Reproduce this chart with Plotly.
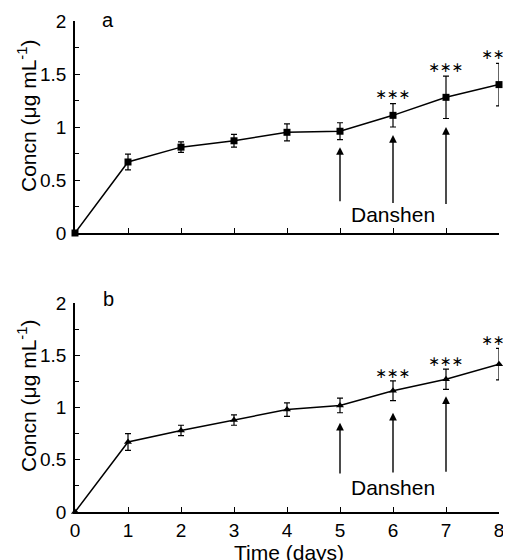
import plotly.graph_objects as go

days = [0, 1, 2, 3, 4, 5, 6, 7, 8]
conc_a = [0, 0.67, 0.81, 0.87, 0.95, 0.96, 1.11, 1.28, 1.40]
err_a = [0, 0.075, 0.05, 0.06, 0.08, 0.08, 0.11, 0.20, 0.20]
conc_b = [0, 0.67, 0.78, 0.88, 0.98, 1.02, 1.16, 1.27, 1.415]
err_b = [0, 0.08, 0.05, 0.05, 0.065, 0.07, 0.094, 0.097, 0.15]

star_days = [6, 7, 8]
star_a = [1.30, 1.555, 1.67]
star_b = [1.316, 1.427, 1.634]

arrow_days = [5, 6, 7]
arrow_tail_a = [0.286, 0.27, 0.26]
arrow_head_a = [0.81, 0.925, 1.0]
arrow_tail_b = [0.354, 0.363, 0.37]
arrow_head_b = [0.853, 0.95, 1.108]

x_ticks = [0, 1, 2, 3, 4, 5, 6, 7, 8]
y_ticks = [0, 0.5, 1, 1.5, 2]
y_tick_text = ["0", "0.5", "1", "1.5", "2"]

FONT = "Liberation Sans, Arial, Helvetica, sans-serif"
OFF = 8  # page body margin
W, H = 511 - OFF, 560 - OFF
ML, MR, MT, MB = 75 - OFF, 12, 21 - OFF, 48
PH = H - MT - MB


def py(p):
    # reference window pixel y -> paper fraction
    return (H - MB - (p - OFF)) / PH


def px(p):
    return ((p - OFF) - ML) / (W - ML - MR)


fig = go.Figure()

panels = [
    ("x", "y", conc_a, err_a, "square", star_a, arrow_tail_a, arrow_head_a),
    ("x2", "y2", conc_b, err_b, "triangle-up", star_b, arrow_tail_b, arrow_head_b),
]
for xr, yr, conc, err, sym, stars, tails, heads in panels:
    fig.add_trace(go.Scatter(
        x=days, y=conc, xaxis=xr, yaxis=yr, mode="lines+markers",
        line=dict(color="black", width=1.5),
        marker=dict(symbol=sym, size=7, color="black"),
        error_y=dict(type="data", array=err, visible=True, color="black",
                     thickness=1.2, width=3),
        cliponaxis=False, showlegend=False,
    ))
    fig.add_trace(go.Scatter(
        x=star_days, y=stars, xaxis=xr, yaxis=yr, mode="text",
        text=["∗∗∗"] * len(star_days),
        textfont=dict(family="DejaVu Sans", size=14, color="black"),
        textposition="middle center", cliponaxis=False, showlegend=False,
    ))
    for d, t, h in zip(arrow_days, tails, heads):
        fig.add_annotation(
            x=d, y=h, ax=d, ay=t, xref=xr, yref=yr, axref=xr, ayref=yr,
            showarrow=True, arrowhead=2, arrowsize=1.1, arrowwidth=1.4,
            arrowcolor="black", text="",
        )

# Danshen labels
for xr, yr, yv in (("x", "y", 0.17), ("x2", "y2", 0.23)):
    fig.add_annotation(x=6.0, y=yv, xref=xr, yref=yr, text="Danshen",
                       showarrow=False, xanchor="center", yanchor="middle",
                       font=dict(family=FONT, size=21, color="black"))

# panel letters
for lbl, cy in (("a", 20), ("b", 299)):
    fig.add_annotation(x=px(108), y=py(cy), xref="paper", yref="paper",
                       text=lbl, showarrow=False, xanchor="center",
                       yanchor="middle",
                       font=dict(family=FONT, size=20, color="black"))

# y titles
for cy in (116, 396):
    fig.add_annotation(x=px(27), y=py(cy), xref="paper", yref="paper",
                       text="Concn (μg mL<sup>-1</sup>)", textangle=-90,
                       showarrow=False, xanchor="center", yanchor="middle",
                       font=dict(family=FONT, size=21, color="black"))

# x title
fig.add_annotation(x=px(289), y=py(552), xref="paper", yref="paper",
                   text="Time (days)", showarrow=False, xanchor="center",
                   yanchor="middle",
                   font=dict(family=FONT, size=21, color="black"))

xa = dict(range=[0, 8], tickvals=x_ticks, ticks="inside", ticklen=5,
          tickwidth=1.2, tickcolor="black", showline=True, linecolor="black",
          linewidth=1.5, showgrid=False, zeroline=False, automargin=False,
          tickfont=dict(family=FONT, size=19, color="black"))
ya = dict(range=[0, 2], tickvals=y_ticks, ticktext=y_tick_text, ticks="inside",
          ticklen=5, tickwidth=1.2, tickcolor="black", showline=True,
          linecolor="black", linewidth=1.5, showgrid=False, zeroline=False,
          ticklabelstandoff=3, automargin=False,
          minor=dict(tickvals=[0.25, 0.75, 1.25, 1.75], ticks="inside",
                     ticklen=4, tickcolor="black", tickwidth=1.2, showgrid=False),
          tickfont=dict(family=FONT, size=19, color="black"))

top_lo, top_hi = py(233), py(21)
bot_lo, bot_hi = py(512), py(303)

fig.update_layout(
    width=W, height=H,
    margin=dict(l=ML, r=MR, t=MT, b=MB),
    paper_bgcolor="white", plot_bgcolor="white",
    xaxis=dict(xa, domain=[0, 1], anchor="y", showticklabels=False),
    yaxis=dict(ya, domain=[top_lo, top_hi], anchor="x"),
    xaxis2=dict(xa, domain=[0, 1], anchor="y2", ticklabelstandoff=0),
    yaxis2=dict(ya, domain=[bot_lo, bot_hi], anchor="x2"),
)

fig.write_html("out.html")
